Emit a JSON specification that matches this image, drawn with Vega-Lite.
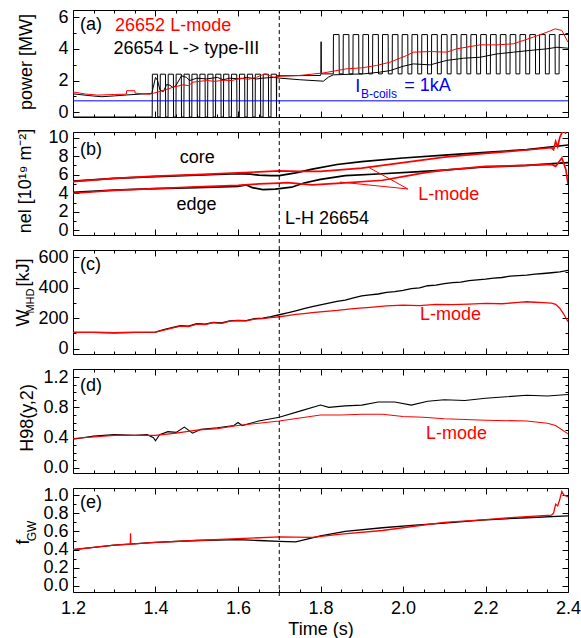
{
"$schema": "https://vega.github.io/schema/vega-lite/v6.json",
"padding": {"left": 14, "top": 7, "right": 0, "bottom": 0},
"spacing": 15,
"bounds": "flush",
"resolve": {"scale": {"color": "independent", "size": "independent"}},
"config": {
 "font": "Liberation Sans",
 "view": {"stroke": "#000", "strokeWidth": 1},
 "axis": {"labelFont": "Liberation Sans", "labelFontSize": 18, "labelColor": "#000", "tickColor": "#000", "tickWidth": 1, "titleFont": "Liberation Sans", "titleFontSize": 18, "titleFontWeight": "normal", "titleColor": "#000", "domain": false, "grid": false, "labelOverlap": false, "labelFlush": false},
 "text": {"font": "Liberation Sans", "fontSize": 18}
},
"datasets": {
 "a": [
  {"s":"q","t":1.2,"v":-0.3},{"s":"q","t":1.392,"v":-0.3},
  {"s":"q","t":1.3924,"v":2.4},{"s":"q","t":1.405,"v":2.4},{"s":"q","t":1.4054,"v":-0.3},{"s":"q","t":1.4112,"v":-0.3},
  {"s":"q","t":1.4116,"v":2.4},{"s":"q","t":1.4242,"v":2.4},{"s":"q","t":1.4246,"v":-0.3},{"s":"q","t":1.4304,"v":-0.3},
  {"s":"q","t":1.4308,"v":2.4},{"s":"q","t":1.4434,"v":2.4},{"s":"q","t":1.4438,"v":-0.3},{"s":"q","t":1.4496,"v":-0.3},
  {"s":"q","t":1.45,"v":2.4},{"s":"q","t":1.4626,"v":2.4},{"s":"q","t":1.463,"v":-0.3},{"s":"q","t":1.4688,"v":-0.3},
  {"s":"q","t":1.4692,"v":2.4},{"s":"q","t":1.4818,"v":2.4},{"s":"q","t":1.4822,"v":-0.3},{"s":"q","t":1.488,"v":-0.3},
  {"s":"q","t":1.4884,"v":2.4},{"s":"q","t":1.501,"v":2.4},{"s":"q","t":1.5014,"v":-0.3},{"s":"q","t":1.5072,"v":-0.3},
  {"s":"q","t":1.5076,"v":2.4},{"s":"q","t":1.5202,"v":2.4},{"s":"q","t":1.5206,"v":-0.3},{"s":"q","t":1.5264,"v":-0.3},
  {"s":"q","t":1.5268,"v":2.4},{"s":"q","t":1.5394,"v":2.4},{"s":"q","t":1.5398,"v":-0.3},{"s":"q","t":1.5456,"v":-0.3},
  {"s":"q","t":1.546,"v":2.4},{"s":"q","t":1.5586,"v":2.4},{"s":"q","t":1.559,"v":-0.3},{"s":"q","t":1.5648,"v":-0.3},
  {"s":"q","t":1.5652,"v":2.4},{"s":"q","t":1.5778,"v":2.4},{"s":"q","t":1.5782,"v":-0.3},{"s":"q","t":1.584,"v":-0.3},
  {"s":"q","t":1.5844,"v":2.4},{"s":"q","t":1.597,"v":2.4},{"s":"q","t":1.5974,"v":-0.3},{"s":"q","t":1.6032,"v":-0.3},
  {"s":"q","t":1.6036,"v":2.4},{"s":"q","t":1.6162,"v":2.4},{"s":"q","t":1.6166,"v":-0.3},{"s":"q","t":1.6224,"v":-0.3},
  {"s":"q","t":1.6228,"v":2.4},{"s":"q","t":1.6354,"v":2.4},{"s":"q","t":1.6358,"v":-0.3},{"s":"q","t":1.6416,"v":-0.3},
  {"s":"q","t":1.642,"v":2.4},{"s":"q","t":1.6546,"v":2.4},{"s":"q","t":1.655,"v":-0.3},{"s":"q","t":1.6608,"v":-0.3},
  {"s":"q","t":1.6612,"v":2.4},{"s":"q","t":1.6738,"v":2.4},{"s":"q","t":1.6742,"v":-0.3},{"s":"q","t":1.68,"v":-0.3},
  {"s":"q","t":1.6804,"v":2.4},{"s":"q","t":1.693,"v":2.4},{"s":"q","t":1.6934,"v":-0.3},
  {"s":"q","t":1.6938,"v":2.3},{"s":"q","t":1.8,"v":2.32},{"s":"q","t":1.801,"v":2.42},{"s":"q","t":1.8015,"v":4.45},{"s":"q","t":1.802,"v":2.42},
  {"s":"q","t":1.831,"v":2.42},{"s":"q","t":1.8314,"v":4.9},{"s":"q","t":1.845,"v":4.9},{"s":"q","t":1.8454,"v":2.42},
  {"s":"q","t":1.8548,"v":2.42},{"s":"q","t":1.8552,"v":4.9},{"s":"q","t":1.8688,"v":4.9},{"s":"q","t":1.8692,"v":2.42},
  {"s":"q","t":1.8786,"v":2.42},{"s":"q","t":1.879,"v":4.9},{"s":"q","t":1.8926,"v":4.9},{"s":"q","t":1.893,"v":2.42},
  {"s":"q","t":1.9024,"v":2.42},{"s":"q","t":1.9028,"v":4.9},{"s":"q","t":1.9164,"v":4.9},{"s":"q","t":1.9168,"v":2.42},
  {"s":"q","t":1.9262,"v":2.42},{"s":"q","t":1.9266,"v":4.9},{"s":"q","t":1.9402,"v":4.9},{"s":"q","t":1.9406,"v":2.42},
  {"s":"q","t":1.95,"v":2.42},{"s":"q","t":1.9504,"v":4.9},{"s":"q","t":1.964,"v":4.9},{"s":"q","t":1.9644,"v":2.42},
  {"s":"q","t":1.9738,"v":2.42},{"s":"q","t":1.9742,"v":4.9},{"s":"q","t":1.9878,"v":4.9},{"s":"q","t":1.9882,"v":2.42},
  {"s":"q","t":1.9976,"v":2.42},{"s":"q","t":1.998,"v":4.9},{"s":"q","t":2.0116,"v":4.9},{"s":"q","t":2.012,"v":2.42},
  {"s":"q","t":2.0214,"v":2.42},{"s":"q","t":2.0218,"v":4.9},{"s":"q","t":2.0354,"v":4.9},{"s":"q","t":2.0358,"v":2.42},
  {"s":"q","t":2.0452,"v":2.42},{"s":"q","t":2.0456,"v":4.9},{"s":"q","t":2.0592,"v":4.9},{"s":"q","t":2.0596,"v":2.42},
  {"s":"q","t":2.069,"v":2.42},{"s":"q","t":2.0694,"v":4.9},{"s":"q","t":2.083,"v":4.9},{"s":"q","t":2.0834,"v":2.42},
  {"s":"q","t":2.0928,"v":2.42},{"s":"q","t":2.0932,"v":4.9},{"s":"q","t":2.1068,"v":4.9},{"s":"q","t":2.1072,"v":2.42},
  {"s":"q","t":2.1166,"v":2.42},{"s":"q","t":2.117,"v":4.9},{"s":"q","t":2.1306,"v":4.9},{"s":"q","t":2.131,"v":2.42},
  {"s":"q","t":2.1404,"v":2.42},{"s":"q","t":2.1408,"v":4.9},{"s":"q","t":2.1544,"v":4.9},{"s":"q","t":2.1548,"v":2.42},
  {"s":"q","t":2.1642,"v":2.42},{"s":"q","t":2.1646,"v":4.9},{"s":"q","t":2.1782,"v":4.9},{"s":"q","t":2.1786,"v":2.42},
  {"s":"q","t":2.188,"v":2.42},{"s":"q","t":2.1884,"v":4.9},{"s":"q","t":2.202,"v":4.9},{"s":"q","t":2.2024,"v":2.42},
  {"s":"q","t":2.2118,"v":2.42},{"s":"q","t":2.2122,"v":4.9},{"s":"q","t":2.2258,"v":4.9},{"s":"q","t":2.2262,"v":2.42},
  {"s":"q","t":2.2356,"v":2.42},{"s":"q","t":2.236,"v":4.9},{"s":"q","t":2.2496,"v":4.9},{"s":"q","t":2.25,"v":2.42},
  {"s":"q","t":2.2594,"v":2.42},{"s":"q","t":2.2598,"v":4.9},{"s":"q","t":2.2734,"v":4.9},{"s":"q","t":2.2738,"v":2.42},
  {"s":"q","t":2.2832,"v":2.42},{"s":"q","t":2.2836,"v":4.9},{"s":"q","t":2.2972,"v":4.9},{"s":"q","t":2.2976,"v":2.42},
  {"s":"q","t":2.307,"v":2.42},{"s":"q","t":2.3074,"v":4.9},{"s":"q","t":2.321,"v":4.9},{"s":"q","t":2.3214,"v":2.42},
  {"s":"q","t":2.3308,"v":2.42},{"s":"q","t":2.3312,"v":4.9},{"s":"q","t":2.3448,"v":4.9},{"s":"q","t":2.3452,"v":2.42},
  {"s":"q","t":2.3546,"v":2.42},{"s":"q","t":2.355,"v":4.9},{"s":"q","t":2.3686,"v":4.9},{"s":"q","t":2.369,"v":2.42},
  {"s":"q","t":2.3784,"v":2.42},{"s":"q","t":2.3788,"v":4.9},{"s":"q","t":2.4,"v":4.9},
  {"s":"k","t":1.2,"v":1.16},{"s":"k","t":1.25,"v":1.02},{"s":"k","t":1.27,"v":0.98},{"s":"k","t":1.3,"v":1.03},{"s":"k","t":1.33,"v":1.09},{"s":"k","t":1.36,"v":1.14},{"s":"k","t":1.391,"v":1.18},
  {"s":"k","t":1.4,"v":2.2},{"s":"k","t":1.405,"v":2.0},{"s":"k","t":1.411,"v":1.4},{"s":"k","t":1.419,"v":1.3},{"s":"k","t":1.427,"v":1.75},{"s":"k","t":1.435,"v":1.7},{"s":"k","t":1.443,"v":1.55},{"s":"k","t":1.45,"v":1.7},{"s":"k","t":1.463,"v":2.3},{"s":"k","t":1.475,"v":2.2},{"s":"k","t":1.483,"v":2.0},{"s":"k","t":1.5,"v":2.15},{"s":"k","t":1.524,"v":2.1},{"s":"k","t":1.55,"v":2.2},{"s":"k","t":1.564,"v":2.05},{"s":"k","t":1.58,"v":2.15},{"s":"k","t":1.605,"v":2.1},{"s":"k","t":1.62,"v":2.2},{"s":"k","t":1.645,"v":2.1},{"s":"k","t":1.66,"v":2.15},{"s":"k","t":1.686,"v":2.2},{"s":"k","t":1.702,"v":2.15},
  {"s":"k","t":1.75,"v":2.05},{"s":"k","t":1.807,"v":1.96},{"s":"k","t":1.819,"v":2.21},{"s":"k","t":1.831,"v":2.36},{"s":"k","t":1.904,"v":2.42},{"s":"k","t":1.944,"v":2.53},{"s":"k","t":1.969,"v":2.63},{"s":"k","t":2.0,"v":2.9},{"s":"k","t":2.025,"v":3.05},{"s":"k","t":2.066,"v":2.99},{"s":"k","t":2.106,"v":3.27},{"s":"k","t":2.147,"v":3.41},{"s":"k","t":2.187,"v":3.47},{"s":"k","t":2.228,"v":3.68},{"s":"k","t":2.268,"v":3.79},{"s":"k","t":2.308,"v":3.9},{"s":"k","t":2.349,"v":4.0},{"s":"k","t":2.373,"v":4.1},{"s":"k","t":2.4,"v":4.04},
  {"s":"r","t":1.2,"v":1.28},{"s":"r","t":1.23,"v":1.15},{"s":"r","t":1.26,"v":1.08},{"s":"r","t":1.3,"v":1.12},{"s":"r","t":1.3295,"v":1.14},{"s":"r","t":1.33,"v":1.36},{"s":"r","t":1.35,"v":1.36},{"s":"r","t":1.3505,"v":1.2},{"s":"r","t":1.386,"v":1.14},{"s":"r","t":1.411,"v":1.31},{"s":"r","t":1.443,"v":1.58},{"s":"r","t":1.467,"v":1.73},{"s":"r","t":1.48,"v":1.68},{"s":"r","t":1.491,"v":1.9},{"s":"r","t":1.524,"v":2.0},{"s":"r","t":1.545,"v":1.95},{"s":"r","t":1.564,"v":2.02},{"s":"r","t":1.585,"v":2.0},{"s":"r","t":1.605,"v":2.15},{"s":"r","t":1.625,"v":2.08},{"s":"r","t":1.645,"v":2.21},{"s":"r","t":1.665,"v":2.42},{"s":"r","t":1.686,"v":2.21},{"s":"r","t":1.702,"v":2.27},{"s":"r","t":1.75,"v":2.32},{"s":"r","t":1.807,"v":2.48},{"s":"r","t":1.864,"v":2.74},{"s":"r","t":1.9,"v":2.8},{"s":"r","t":1.936,"v":2.95},{"s":"r","t":1.969,"v":3.16},{"s":"r","t":2.009,"v":3.58},{"s":"r","t":2.025,"v":3.79},{"s":"r","t":2.066,"v":3.83},{"s":"r","t":2.106,"v":3.79},{"s":"r","t":2.13,"v":4.0},{"s":"r","t":2.187,"v":4.25},{"s":"r","t":2.228,"v":4.25},{"s":"r","t":2.268,"v":4.32},{"s":"r","t":2.316,"v":4.74},{"s":"r","t":2.349,"v":5.05},{"s":"r","t":2.369,"v":5.26},{"s":"r","t":2.385,"v":5.16},{"s":"r","t":2.4,"v":4.42},
  {"s":"b","t":1.2,"v":0.72},{"s":"b","t":2.4,"v":0.72}
 ],
 "b": [
  {"s":"kc","t":1.2,"v":5.3},{"s":"kc","t":1.3,"v":5.6},{"s":"kc","t":1.4,"v":5.8},{"s":"kc","t":1.5,"v":5.95},{"s":"kc","t":1.6,"v":6.1},{"s":"kc","t":1.63,"v":6.05},{"s":"kc","t":1.65,"v":5.95},{"s":"kc","t":1.68,"v":5.9},{"s":"kc","t":1.7,"v":5.9},{"s":"kc","t":1.74,"v":6.2},{"s":"kc","t":1.78,"v":6.6},{"s":"kc","t":1.84,"v":7.1},{"s":"kc","t":1.9,"v":7.4},{"s":"kc","t":2.0,"v":7.8},{"s":"kc","t":2.1,"v":8.1},{"s":"kc","t":2.2,"v":8.4},{"s":"kc","t":2.3,"v":8.7},{"s":"kc","t":2.4,"v":9.2},
  {"s":"rc","t":1.2,"v":5.25},{"s":"rc","t":1.3,"v":5.6},{"s":"rc","t":1.4,"v":5.85},{"s":"rc","t":1.5,"v":6.0},{"s":"rc","t":1.6,"v":6.2},{"s":"rc","t":1.7,"v":6.4},{"s":"rc","t":1.75,"v":6.35},{"s":"rc","t":1.8,"v":6.35},{"s":"rc","t":1.9,"v":6.7},{"s":"rc","t":1.95,"v":7.0},{"s":"rc","t":2.0,"v":7.3},{"s":"rc","t":2.1,"v":7.9},{"s":"rc","t":2.2,"v":8.3},{"s":"rc","t":2.27,"v":8.55},{"s":"rc","t":2.36,"v":8.9},{"s":"rc","t":2.365,"v":8.7},{"s":"rc","t":2.37,"v":9.6},{"s":"rc","t":2.375,"v":9.0},{"s":"rc","t":2.38,"v":10.0},{"s":"rc","t":2.385,"v":10.5},{"s":"rc","t":2.39,"v":10.8},{"s":"rc","t":2.395,"v":10.4},
  {"s":"ke","t":1.2,"v":4.1},{"s":"ke","t":1.3,"v":4.35},{"s":"ke","t":1.4,"v":4.5},{"s":"ke","t":1.5,"v":4.6},{"s":"ke","t":1.6,"v":4.75},{"s":"ke","t":1.62,"v":4.9},{"s":"ke","t":1.635,"v":4.6},{"s":"ke","t":1.66,"v":4.4},{"s":"ke","t":1.69,"v":4.45},{"s":"ke","t":1.7,"v":4.5},{"s":"ke","t":1.73,"v":4.65},{"s":"ke","t":1.76,"v":5.1},{"s":"ke","t":1.8,"v":5.5},{"s":"ke","t":1.86,"v":5.9},{"s":"ke","t":1.95,"v":6.1},{"s":"ke","t":2.03,"v":6.3},{"s":"ke","t":2.1,"v":6.5},{"s":"ke","t":2.19,"v":6.8},{"s":"ke","t":2.3,"v":7.0},{"s":"ke","t":2.4,"v":7.3},
  {"s":"re","t":1.2,"v":4.0},{"s":"re","t":1.3,"v":4.3},{"s":"re","t":1.4,"v":4.5},{"s":"re","t":1.5,"v":4.7},{"s":"re","t":1.6,"v":4.85},{"s":"re","t":1.65,"v":5.0},{"s":"re","t":1.7,"v":5.1},{"s":"re","t":1.72,"v":5.15},{"s":"re","t":1.78,"v":4.9},{"s":"re","t":1.85,"v":5.1},{"s":"re","t":1.95,"v":5.4},{"s":"re","t":2.0,"v":5.8},{"s":"re","t":2.05,"v":6.2},{"s":"re","t":2.1,"v":6.5},{"s":"re","t":2.2,"v":6.9},{"s":"re","t":2.3,"v":7.0},{"s":"re","t":2.36,"v":7.1},{"s":"re","t":2.37,"v":6.9},{"s":"re","t":2.38,"v":7.5},{"s":"re","t":2.385,"v":7.8},{"s":"re","t":2.39,"v":7.2},{"s":"re","t":2.395,"v":6.5},{"s":"re","t":2.4,"v":5.0}
 ],
 "c": [
  {"s":"k","t":1.2,"v":106},{"s":"k","t":1.25,"v":107},{"s":"k","t":1.3,"v":104},{"s":"k","t":1.35,"v":106},{"s":"k","t":1.4,"v":108},{"s":"k","t":1.42,"v":125},{"s":"k","t":1.44,"v":138},{"s":"k","t":1.46,"v":150},{"s":"k","t":1.48,"v":147},{"s":"k","t":1.5,"v":163},{"s":"k","t":1.52,"v":160},{"s":"k","t":1.54,"v":172},{"s":"k","t":1.56,"v":168},{"s":"k","t":1.58,"v":182},{"s":"k","t":1.6,"v":185},{"s":"k","t":1.62,"v":183},{"s":"k","t":1.64,"v":197},{"s":"k","t":1.66,"v":200},{"s":"k","t":1.68,"v":210},{"s":"k","t":1.7,"v":222},{"s":"k","t":1.72,"v":235},{"s":"k","t":1.74,"v":248},{"s":"k","t":1.76,"v":262},{"s":"k","t":1.78,"v":275},{"s":"k","t":1.8,"v":287},{"s":"k","t":1.82,"v":298},{"s":"k","t":1.84,"v":310},{"s":"k","t":1.86,"v":318},{"s":"k","t":1.88,"v":332},{"s":"k","t":1.9,"v":345},{"s":"k","t":1.92,"v":352},{"s":"k","t":1.94,"v":358},{"s":"k","t":1.96,"v":368},{"s":"k","t":1.98,"v":374},{"s":"k","t":2.0,"v":382},{"s":"k","t":2.02,"v":393},{"s":"k","t":2.04,"v":398},{"s":"k","t":2.06,"v":412},{"s":"k","t":2.08,"v":416},{"s":"k","t":2.1,"v":426},{"s":"k","t":2.12,"v":432},{"s":"k","t":2.14,"v":436},{"s":"k","t":2.16,"v":446},{"s":"k","t":2.18,"v":450},{"s":"k","t":2.2,"v":455},{"s":"k","t":2.22,"v":462},{"s":"k","t":2.24,"v":466},{"s":"k","t":2.26,"v":475},{"s":"k","t":2.28,"v":478},{"s":"k","t":2.3,"v":482},{"s":"k","t":2.32,"v":488},{"s":"k","t":2.34,"v":492},{"s":"k","t":2.36,"v":497},{"s":"k","t":2.38,"v":503},{"s":"k","t":2.4,"v":512},
  {"s":"r","t":1.2,"v":106},{"s":"r","t":1.25,"v":106},{"s":"r","t":1.3,"v":104},{"s":"r","t":1.35,"v":107},{"s":"r","t":1.4,"v":108},{"s":"r","t":1.42,"v":122},{"s":"r","t":1.44,"v":135},{"s":"r","t":1.46,"v":148},{"s":"r","t":1.48,"v":145},{"s":"r","t":1.5,"v":160},{"s":"r","t":1.52,"v":158},{"s":"r","t":1.54,"v":170},{"s":"r","t":1.56,"v":166},{"s":"r","t":1.58,"v":180},{"s":"r","t":1.6,"v":183},{"s":"r","t":1.62,"v":182},{"s":"r","t":1.64,"v":194},{"s":"r","t":1.66,"v":196},{"s":"r","t":1.68,"v":203},{"s":"r","t":1.7,"v":209},{"s":"r","t":1.72,"v":216},{"s":"r","t":1.74,"v":224},{"s":"r","t":1.76,"v":230},{"s":"r","t":1.78,"v":236},{"s":"r","t":1.8,"v":241},{"s":"r","t":1.84,"v":250},{"s":"r","t":1.88,"v":262},{"s":"r","t":1.92,"v":270},{"s":"r","t":1.96,"v":280},{"s":"r","t":2.0,"v":285},{"s":"r","t":2.04,"v":282},{"s":"r","t":2.08,"v":290},{"s":"r","t":2.12,"v":288},{"s":"r","t":2.16,"v":292},{"s":"r","t":2.2,"v":296},{"s":"r","t":2.24,"v":294},{"s":"r","t":2.28,"v":303},{"s":"r","t":2.3,"v":307},{"s":"r","t":2.32,"v":304},{"s":"r","t":2.34,"v":301},{"s":"r","t":2.36,"v":298},{"s":"r","t":2.37,"v":290},{"s":"r","t":2.38,"v":265},{"s":"r","t":2.39,"v":225},{"s":"r","t":2.4,"v":176}
 ],
 "d": [
  {"s":"k","t":1.2,"v":0.38},{"s":"k","t":1.25,"v":0.42},{"s":"k","t":1.3,"v":0.44},{"s":"k","t":1.35,"v":0.43},{"s":"k","t":1.38,"v":0.44},{"s":"k","t":1.395,"v":0.4},{"s":"k","t":1.4,"v":0.36},{"s":"k","t":1.41,"v":0.44},{"s":"k","t":1.43,"v":0.48},{"s":"k","t":1.45,"v":0.47},{"s":"k","t":1.47,"v":0.54},{"s":"k","t":1.49,"v":0.46},{"s":"k","t":1.51,"v":0.51},{"s":"k","t":1.55,"v":0.53},{"s":"k","t":1.59,"v":0.56},{"s":"k","t":1.6,"v":0.6},{"s":"k","t":1.61,"v":0.56},{"s":"k","t":1.65,"v":0.62},{"s":"k","t":1.7,"v":0.67},{"s":"k","t":1.75,"v":0.75},{"s":"k","t":1.8,"v":0.83},{"s":"k","t":1.82,"v":0.8},{"s":"k","t":1.86,"v":0.82},{"s":"k","t":1.9,"v":0.83},{"s":"k","t":1.94,"v":0.87},{"s":"k","t":1.98,"v":0.87},{"s":"k","t":2.02,"v":0.83},{"s":"k","t":2.06,"v":0.88},{"s":"k","t":2.1,"v":0.9},{"s":"k","t":2.15,"v":0.89},{"s":"k","t":2.2,"v":0.92},{"s":"k","t":2.25,"v":0.94},{"s":"k","t":2.3,"v":0.96},{"s":"k","t":2.35,"v":0.95},{"s":"k","t":2.4,"v":0.97},
  {"s":"r","t":1.2,"v":0.39},{"s":"r","t":1.3,"v":0.43},{"s":"r","t":1.4,"v":0.43},{"s":"r","t":1.45,"v":0.46},{"s":"r","t":1.5,"v":0.5},{"s":"r","t":1.55,"v":0.52},{"s":"r","t":1.6,"v":0.56},{"s":"r","t":1.65,"v":0.59},{"s":"r","t":1.7,"v":0.62},{"s":"r","t":1.75,"v":0.66},{"s":"r","t":1.8,"v":0.7},{"s":"r","t":1.85,"v":0.7},{"s":"r","t":1.9,"v":0.71},{"s":"r","t":1.95,"v":0.71},{"s":"r","t":2.0,"v":0.68},{"s":"r","t":2.05,"v":0.67},{"s":"r","t":2.1,"v":0.65},{"s":"r","t":2.2,"v":0.63},{"s":"r","t":2.3,"v":0.62},{"s":"r","t":2.35,"v":0.59},{"s":"r","t":2.37,"v":0.56},{"s":"r","t":2.4,"v":0.45}
 ],
 "e": [
  {"s":"k","t":1.2,"v":0.4},{"s":"k","t":1.3,"v":0.45},{"s":"k","t":1.4,"v":0.48},{"s":"k","t":1.5,"v":0.5},{"s":"k","t":1.6,"v":0.51},{"s":"k","t":1.65,"v":0.5},{"s":"k","t":1.7,"v":0.49},{"s":"k","t":1.74,"v":0.485},{"s":"k","t":1.8,"v":0.55},{"s":"k","t":1.86,"v":0.6},{"s":"k","t":1.95,"v":0.64},{"s":"k","t":2.03,"v":0.67},{"s":"k","t":2.1,"v":0.69},{"s":"k","t":2.19,"v":0.725},{"s":"k","t":2.3,"v":0.75},{"s":"k","t":2.4,"v":0.77},
  {"s":"r","t":1.2,"v":0.4},{"s":"r","t":1.3,"v":0.45},{"s":"r","t":1.339,"v":0.46},{"s":"r","t":1.3395,"v":0.58},{"s":"r","t":1.34,"v":0.46},{"s":"r","t":1.4,"v":0.48},{"s":"r","t":1.5,"v":0.5},{"s":"r","t":1.6,"v":0.52},{"s":"r","t":1.7,"v":0.54},{"s":"r","t":1.78,"v":0.535},{"s":"r","t":1.85,"v":0.57},{"s":"r","t":1.95,"v":0.61},{"s":"r","t":2.0,"v":0.64},{"s":"r","t":2.1,"v":0.7},{"s":"r","t":2.2,"v":0.73},{"s":"r","t":2.27,"v":0.755},{"s":"r","t":2.36,"v":0.78},{"s":"r","t":2.365,"v":0.8},{"s":"r","t":2.37,"v":0.9},{"s":"r","t":2.375,"v":0.88},{"s":"r","t":2.38,"v":0.95},{"s":"r","t":2.385,"v":1.04},{"s":"r","t":2.39,"v":1.0},{"s":"r","t":2.4,"v":0.98}
 ]
},
"vconcat": [
 {
  "width": 495, "height": 107,
  "layer": [
   {"data": {"name": "a"}, "mark": {"type": "line", "clip": true},
    "encoding": {
     "x": {"field": "t", "type": "quantitative", "scale": {"domain": [1.2, 2.4], "nice": false, "zero": false},
       "axis": {"orient": "bottom", "values": [1.2,1.25,1.3,1.35,1.4,1.45,1.5,1.55,1.6,1.65,1.7,1.75,1.8,1.85,1.9,1.95,2.0,2.05,2.1,2.15,2.2,2.25,2.3,2.35,2.4], "labels": false, "title": null, "tickSize": {"condition": {"test": "abs(datum.value*5 - round(datum.value*5)) < 0.01", "value": -6}, "value": -3}}},
     "y": {"field": "v", "type": "quantitative", "scale": {"domain": [-0.3, 6.45], "nice": false, "zero": false},
       "axis": {"orient": "left", "values": [0,1,2,3,4,5,6], "labelExpr": "datum.value % 2 == 0 ? format(datum.value, 'd') : ''", "labelPadding": 11, "title": null, "tickSize": {"condition": {"test": "datum.value % 2 == 0", "value": -6}, "value": -3}}},
     "color": {"field": "s", "type": "nominal", "scale": {"domain": ["q","k","r","b"], "range": ["#000000","#000000","#ff0000","#0000ff"]}, "legend": null},
     "size": {"field": "s", "type": "nominal", "scale": {"domain": ["q","k","r","b"], "range": [1,1,1.2,2.6]}, "legend": null}
    }},
   {"data": {"values": [{}]}, "mark": {"type": "rule", "strokeDash": [4,3], "color": "#000", "strokeWidth": 1},
    "encoding": {
     "x": {"datum": 1.7, "type": "quantitative", "scale": {"domain": [1.2, 2.4], "nice": false, "zero": false},
       "axis": {"orient": "top", "values": [1.2,1.25,1.3,1.35,1.4,1.45,1.5,1.55,1.6,1.65,1.7,1.75,1.8,1.85,1.9,1.95,2.0,2.05,2.1,2.15,2.2,2.25,2.3,2.35,2.4], "labels": false, "title": null, "tickSize": {"condition": {"test": "abs(datum.value*5 - round(datum.value*5)) < 0.01", "value": -6}, "value": -3}}},
     "y": {"datum": -1.25, "type": "quantitative", "scale": {"domain": [-0.3, 6.45], "nice": false, "zero": false},
       "axis": {"orient": "right", "values": [0,1,2,3,4,5,6], "labels": false, "title": null, "tickSize": {"condition": {"test": "datum.value % 2 == 0", "value": -6}, "value": -3}}},
     "y2": {"datum": 6.45}
    }},
   {"data": {"values": [{"t": 1.217, "v": 5.48, "label": "(a)"}, {"t": 1.298, "v": 4.0, "label": "26654 L -> type-III"}]},
    "mark": {"type": "text", "align": "left", "baseline": "middle", "color": "#000", "fontSize": 18},
    "encoding": {"x": {"field": "t", "type": "quantitative", "scale": {"domain": [1.2, 2.4], "nice": false, "zero": false}, "axis": null}, "y": {"field": "v", "type": "quantitative", "scale": {"domain": [-0.3, 6.45], "nice": false, "zero": false}, "axis": null}, "text": {"field": "label"}}},
   {"data": {"values": [{"t": 1.302, "v": 5.43, "label": "26652 L-mode"}]},
    "mark": {"type": "text", "align": "left", "baseline": "middle", "color": "#ff0000", "fontSize": 18},
    "encoding": {"x": {"field": "t", "type": "quantitative", "scale": {"domain": [1.2, 2.4], "nice": false, "zero": false}, "axis": null}, "y": {"field": "v", "type": "quantitative", "scale": {"domain": [-0.3, 6.45], "nice": false, "zero": false}, "axis": null}, "text": {"field": "label"}}},
   {"data": {"values": [{"t": 1.884, "v": 1.62, "label": "I"}, {"t": 2.003, "v": 1.64, "label": "= 1kA"}]},
    "mark": {"type": "text", "align": "left", "baseline": "middle", "color": "#0000ff", "fontSize": 18},
    "encoding": {"x": {"field": "t", "type": "quantitative", "scale": {"domain": [1.2, 2.4], "nice": false, "zero": false}, "axis": null}, "y": {"field": "v", "type": "quantitative", "scale": {"domain": [-0.3, 6.45], "nice": false, "zero": false}, "axis": null}, "text": {"field": "label"}}},
   {"data": {"values": [{"t": 1.898, "v": 1.15, "label": "B-coils"}]},
    "mark": {"type": "text", "align": "left", "baseline": "middle", "color": "#0000ff", "fontSize": 12},
    "encoding": {"x": {"field": "t", "type": "quantitative", "scale": {"domain": [1.2, 2.4], "nice": false, "zero": false}, "axis": null}, "y": {"field": "v", "type": "quantitative", "scale": {"domain": [-0.3, 6.45], "nice": false, "zero": false}, "axis": null}, "text": {"field": "label"}}},
   {"data": {"values": [{"t": 1.0873, "v": 3.17, "label": "power [MW]"}]},
    "mark": {"type": "text", "align": "center", "baseline": "middle", "angle": 270, "color": "#000", "fontSize": 18},
    "encoding": {"x": {"field": "t", "type": "quantitative", "scale": {"domain": [1.2, 2.4], "nice": false, "zero": false}, "axis": null}, "y": {"field": "v", "type": "quantitative", "scale": {"domain": [-0.3, 6.45], "nice": false, "zero": false}, "axis": null}, "text": {"field": "label"}}}
  ],
  "resolve": {"axis": {"x": "independent", "y": "independent"}}
 },
 {
  "width": 495, "height": 103,
  "layer": [
   {"data": {"name": "b"}, "mark": {"type": "line", "clip": true, "strokeWidth": 1.7},
    "encoding": {
     "x": {"field": "t", "type": "quantitative", "scale": {"domain": [1.2, 2.4], "nice": false, "zero": false},
       "axis": {"orient": "bottom", "values": [1.2,1.25,1.3,1.35,1.4,1.45,1.5,1.55,1.6,1.65,1.7,1.75,1.8,1.85,1.9,1.95,2.0,2.05,2.1,2.15,2.2,2.25,2.3,2.35,2.4], "labels": false, "title": null, "tickSize": {"condition": {"test": "abs(datum.value*5 - round(datum.value*5)) < 0.01", "value": -6}, "value": -3}}},
     "y": {"field": "v", "type": "quantitative", "scale": {"domain": [-0.5, 10.6], "nice": false, "zero": false},
       "axis": {"orient": "left", "values": [0,1,2,3,4,5,6,7,8,9,10], "labelExpr": "datum.value % 2 == 0 ? format(datum.value, 'd') : ''", "labelPadding": 11, "title": null, "tickSize": {"condition": {"test": "datum.value % 2 == 0", "value": -6}, "value": -3}}},
     "color": {"field": "s", "type": "nominal", "scale": {"domain": ["kc","ke","rc","re"], "range": ["#000000","#000000","#ff0000","#ff0000"]}, "legend": null}
    }},
   {"data": {"values": [{}]}, "mark": {"type": "rule", "strokeDash": [4,3], "color": "#000", "strokeWidth": 1},
    "encoding": {
     "x": {"datum": 1.7, "type": "quantitative", "scale": {"domain": [1.2, 2.4], "nice": false, "zero": false},
       "axis": {"orient": "top", "values": [1.2,1.25,1.3,1.35,1.4,1.45,1.5,1.55,1.6,1.65,1.7,1.75,1.8,1.85,1.9,1.95,2.0,2.05,2.1,2.15,2.2,2.25,2.3,2.35,2.4], "labels": false, "title": null, "tickSize": {"condition": {"test": "abs(datum.value*5 - round(datum.value*5)) < 0.01", "value": -6}, "value": -3}}},
     "y": {"datum": -2.12, "type": "quantitative", "scale": {"domain": [-0.5, 10.6], "nice": false, "zero": false},
       "axis": {"orient": "right", "values": [0,1,2,3,4,5,6,7,8,9,10], "labels": false, "title": null, "tickSize": {"condition": {"test": "datum.value % 2 == 0", "value": -6}, "value": -3}}},
     "y2": {"datum": 10.6}
    }},
   {"data": {"values": [{"t": 2.012, "v": 4.46, "t2": 1.915, "v2": 6.83}, {"t": 2.012, "v": 4.46, "t2": 1.847, "v2": 5.21}]},
    "mark": {"type": "rule", "color": "#ff0000", "strokeWidth": 1},
    "encoding": {"x": {"field": "t", "type": "quantitative", "scale": {"domain": [1.2, 2.4], "nice": false, "zero": false}, "axis": null}, "y": {"field": "v", "type": "quantitative", "scale": {"domain": [-0.5, 10.6], "nice": false, "zero": false}, "axis": null}, "x2": {"field": "t2"}, "y2": {"field": "v2"}}},
   {"data": {"values": [{"t": 1.217, "v": 8.7, "label": "(b)"}, {"t": 1.459, "v": 7.8, "label": "core"}, {"t": 1.451, "v": 2.7, "label": "edge"}, {"t": 1.714, "v": 1.26, "label": "L-H 26654"}]},
    "mark": {"type": "text", "align": "left", "baseline": "middle", "color": "#000", "fontSize": 18},
    "encoding": {"x": {"field": "t", "type": "quantitative", "scale": {"domain": [1.2, 2.4], "nice": false, "zero": false}, "axis": null}, "y": {"field": "v", "type": "quantitative", "scale": {"domain": [-0.5, 10.6], "nice": false, "zero": false}, "axis": null}, "text": {"field": "label"}}},
   {"data": {"values": [{"t": 2.037, "v": 3.84, "label": "L-mode"}]},
    "mark": {"type": "text", "align": "left", "baseline": "middle", "color": "#ff0000", "fontSize": 18},
    "encoding": {"x": {"field": "t", "type": "quantitative", "scale": {"domain": [1.2, 2.4], "nice": false, "zero": false}, "axis": null}, "y": {"field": "v", "type": "quantitative", "scale": {"domain": [-0.5, 10.6], "nice": false, "zero": false}, "axis": null}, "text": {"field": "label"}}},
   {"data": {"values": [{"t": 1.0855, "v": 5.32, "label": "nel [10¹⁹ m⁻²]"}]},
    "mark": {"type": "text", "align": "center", "baseline": "middle", "angle": 270, "color": "#000", "fontSize": 18},
    "encoding": {"x": {"field": "t", "type": "quantitative", "scale": {"domain": [1.2, 2.4], "nice": false, "zero": false}, "axis": null}, "y": {"field": "v", "type": "quantitative", "scale": {"domain": [-0.5, 10.6], "nice": false, "zero": false}, "axis": null}, "text": {"field": "label"}}}
  ],
  "resolve": {"axis": {"x": "independent", "y": "independent"}}
 },
 {
  "width": 495, "height": 104,
  "layer": [
   {"data": {"name": "c"}, "mark": {"type": "line", "clip": true, "strokeWidth": 1.3},
    "encoding": {
     "x": {"field": "t", "type": "quantitative", "scale": {"domain": [1.2, 2.4], "nice": false, "zero": false},
       "axis": {"orient": "bottom", "values": [1.2,1.25,1.3,1.35,1.4,1.45,1.5,1.55,1.6,1.65,1.7,1.75,1.8,1.85,1.9,1.95,2.0,2.05,2.1,2.15,2.2,2.25,2.3,2.35,2.4], "labels": false, "title": null, "tickSize": {"condition": {"test": "abs(datum.value*5 - round(datum.value*5)) < 0.01", "value": -6}, "value": -3}}},
     "y": {"field": "v", "type": "quantitative", "scale": {"domain": [-35, 646], "nice": false, "zero": false},
       "axis": {"orient": "left", "values": [0,100,200,300,400,500,600], "labelExpr": "datum.value % 200 == 0 ? format(datum.value, 'd') : ''", "labelPadding": 11, "title": null, "tickSize": {"condition": {"test": "datum.value % 200 == 0", "value": -6}, "value": -3}}},
     "color": {"field": "s", "type": "nominal", "scale": {"domain": ["k","r"], "range": ["#000000","#ff0000"]}, "legend": null}
    }},
   {"data": {"values": [{}]}, "mark": {"type": "rule", "strokeDash": [4,3], "color": "#000", "strokeWidth": 1},
    "encoding": {
     "x": {"datum": 1.7, "type": "quantitative", "scale": {"domain": [1.2, 2.4], "nice": false, "zero": false},
       "axis": {"orient": "top", "values": [1.2,1.25,1.3,1.35,1.4,1.45,1.5,1.55,1.6,1.65,1.7,1.75,1.8,1.85,1.9,1.95,2.0,2.05,2.1,2.15,2.2,2.25,2.3,2.35,2.4], "labels": false, "title": null, "tickSize": {"condition": {"test": "abs(datum.value*5 - round(datum.value*5)) < 0.01", "value": -6}, "value": -3}}},
     "y": {"datum": -133, "type": "quantitative", "scale": {"domain": [-35, 646], "nice": false, "zero": false},
       "axis": {"orient": "right", "values": [0,100,200,300,400,500,600], "labels": false, "title": null, "tickSize": {"condition": {"test": "datum.value % 200 == 0", "value": -6}, "value": -3}}},
     "y2": {"datum": 646}
    }},
   {"data": {"values": [{"t": 1.217, "v": 546, "label": "(c)"}]},
    "mark": {"type": "text", "align": "left", "baseline": "middle", "color": "#000", "fontSize": 18},
    "encoding": {"x": {"field": "t", "type": "quantitative", "scale": {"domain": [1.2, 2.4], "nice": false, "zero": false}, "axis": null}, "y": {"field": "v", "type": "quantitative", "scale": {"domain": [-35, 646], "nice": false, "zero": false}, "axis": null}, "text": {"field": "label"}}},
   {"data": {"values": [{"t": 2.041, "v": 218, "label": "L-mode"}]},
    "mark": {"type": "text", "align": "left", "baseline": "middle", "color": "#ff0000", "fontSize": 18},
    "encoding": {"x": {"field": "t", "type": "quantitative", "scale": {"domain": [1.2, 2.4], "nice": false, "zero": false}, "axis": null}, "y": {"field": "v", "type": "quantitative", "scale": {"domain": [-35, 646], "nice": false, "zero": false}, "axis": null}, "text": {"field": "label"}}},
   {"data": {"values": [{"t": 1.0812, "v": 201, "label": "W"}, {"t": 1.0812, "v": 499, "label": "[kJ]"}]},
    "mark": {"type": "text", "align": "center", "baseline": "middle", "angle": 270, "color": "#000", "fontSize": 18},
    "encoding": {"x": {"field": "t", "type": "quantitative", "scale": {"domain": [1.2, 2.4], "nice": false, "zero": false}, "axis": null}, "y": {"field": "v", "type": "quantitative", "scale": {"domain": [-35, 646], "nice": false, "zero": false}, "axis": null}, "text": {"field": "label"}}},
   {"data": {"values": [{"t": 1.097, "v": 312, "label": "MHD"}]},
    "mark": {"type": "text", "align": "center", "baseline": "middle", "angle": 270, "color": "#000", "fontSize": 11},
    "encoding": {"x": {"field": "t", "type": "quantitative", "scale": {"domain": [1.2, 2.4], "nice": false, "zero": false}, "axis": null}, "y": {"field": "v", "type": "quantitative", "scale": {"domain": [-35, 646], "nice": false, "zero": false}, "axis": null}, "text": {"field": "label"}}}
  ],
  "resolve": {"axis": {"x": "independent", "y": "independent"}}
 },
 {
  "width": 495, "height": 104,
  "layer": [
   {"data": {"name": "d"}, "mark": {"type": "line", "clip": true, "strokeWidth": 1.1},
    "encoding": {
     "x": {"field": "t", "type": "quantitative", "scale": {"domain": [1.2, 2.4], "nice": false, "zero": false},
       "axis": {"orient": "bottom", "values": [1.2,1.25,1.3,1.35,1.4,1.45,1.5,1.55,1.6,1.65,1.7,1.75,1.8,1.85,1.9,1.95,2.0,2.05,2.1,2.15,2.2,2.25,2.3,2.35,2.4], "labels": false, "title": null, "tickSize": {"condition": {"test": "abs(datum.value*5 - round(datum.value*5)) < 0.01", "value": -6}, "value": -3}}},
     "y": {"field": "v", "type": "quantitative", "scale": {"domain": [-0.066, 1.306], "nice": false, "zero": false},
       "axis": {"orient": "left", "values": [0,0.1,0.2,0.3,0.4,0.5,0.6,0.7,0.8,0.9,1.0,1.1,1.2,1.3], "labelExpr": "abs(datum.value/0.4 - round(datum.value/0.4)) < 0.01 ? format(datum.value, '.1f') : ''", "labelPadding": 11, "title": null, "tickSize": {"condition": {"test": "abs(datum.value/0.4 - round(datum.value/0.4)) < 0.01", "value": -6}, "value": -3}}},
     "color": {"field": "s", "type": "nominal", "scale": {"domain": ["k","r"], "range": ["#000000","#ff0000"]}, "legend": null}
    }},
   {"data": {"values": [{}]}, "mark": {"type": "rule", "strokeDash": [4,3], "color": "#000", "strokeWidth": 1},
    "encoding": {
     "x": {"datum": 1.7, "type": "quantitative", "scale": {"domain": [1.2, 2.4], "nice": false, "zero": false},
       "axis": {"orient": "top", "values": [1.2,1.25,1.3,1.35,1.4,1.45,1.5,1.55,1.6,1.65,1.7,1.75,1.8,1.85,1.9,1.95,2.0,2.05,2.1,2.15,2.2,2.25,2.3,2.35,2.4], "labels": false, "title": null, "tickSize": {"condition": {"test": "abs(datum.value*5 - round(datum.value*5)) < 0.01", "value": -6}, "value": -3}}},
     "y": {"datum": -0.264, "type": "quantitative", "scale": {"domain": [-0.066, 1.306], "nice": false, "zero": false},
       "axis": {"orient": "right", "values": [0,0.1,0.2,0.3,0.4,0.5,0.6,0.7,0.8,0.9,1.0,1.1,1.2,1.3], "labels": false, "title": null, "tickSize": {"condition": {"test": "abs(datum.value/0.4 - round(datum.value/0.4)) < 0.01", "value": -6}, "value": -3}}},
     "y2": {"datum": 1.306}
    }},
   {"data": {"values": [{"t": 1.217, "v": 1.08, "label": "(d)"}]},
    "mark": {"type": "text", "align": "left", "baseline": "middle", "color": "#000", "fontSize": 18},
    "encoding": {"x": {"field": "t", "type": "quantitative", "scale": {"domain": [1.2, 2.4], "nice": false, "zero": false}, "axis": null}, "y": {"field": "v", "type": "quantitative", "scale": {"domain": [-0.066, 1.306], "nice": false, "zero": false}, "axis": null}, "text": {"field": "label"}}},
   {"data": {"values": [{"t": 2.056, "v": 0.452, "label": "L-mode"}]},
    "mark": {"type": "text", "align": "left", "baseline": "middle", "color": "#ff0000", "fontSize": 18},
    "encoding": {"x": {"field": "t", "type": "quantitative", "scale": {"domain": [1.2, 2.4], "nice": false, "zero": false}, "axis": null}, "y": {"field": "v", "type": "quantitative", "scale": {"domain": [-0.066, 1.306], "nice": false, "zero": false}, "axis": null}, "text": {"field": "label"}}},
   {"data": {"values": [{"t": 1.0897, "v": 0.66, "label": "H98(y,2)"}]},
    "mark": {"type": "text", "align": "center", "baseline": "middle", "angle": 270, "color": "#000", "fontSize": 18},
    "encoding": {"x": {"field": "t", "type": "quantitative", "scale": {"domain": [1.2, 2.4], "nice": false, "zero": false}, "axis": null}, "y": {"field": "v", "type": "quantitative", "scale": {"domain": [-0.066, 1.306], "nice": false, "zero": false}, "axis": null}, "text": {"field": "label"}}}
  ],
  "resolve": {"axis": {"x": "independent", "y": "independent"}}
 },
 {
  "width": 495, "height": 104,
  "layer": [
   {"data": {"name": "e"}, "mark": {"type": "line", "clip": true, "strokeWidth": 1.3},
    "encoding": {
     "x": {"field": "t", "type": "quantitative", "scale": {"domain": [1.2, 2.4], "nice": false, "zero": false},
       "axis": {"orient": "bottom", "values": [1.2,1.25,1.3,1.35,1.4,1.45,1.5,1.55,1.6,1.65,1.7,1.75,1.8,1.85,1.9,1.95,2.0,2.05,2.1,2.15,2.2,2.25,2.3,2.35,2.4], "labelExpr": "abs(datum.value*5 - round(datum.value*5)) < 0.01 ? format(datum.value, '.1f') : ''", "labelPadding": 13, "title": "Time (s)", "titlePadding": 0, "tickSize": {"condition": {"test": "abs(datum.value*5 - round(datum.value*5)) < 0.01", "value": -6}, "value": -3}}},
     "y": {"field": "v", "type": "quantitative", "scale": {"domain": [-0.066, 1.077], "nice": false, "zero": false},
       "axis": {"orient": "left", "values": [0,0.1,0.2,0.3,0.4,0.5,0.6,0.7,0.8,0.9,1.0], "labelExpr": "abs(datum.value*5 - round(datum.value*5)) < 0.01 ? format(datum.value, '.1f') : ''", "labelPadding": 11, "title": null, "tickSize": {"condition": {"test": "abs(datum.value*5 - round(datum.value*5)) < 0.01", "value": -6}, "value": -3}}},
     "color": {"field": "s", "type": "nominal", "scale": {"domain": ["k","r"], "range": ["#000000","#ff0000"]}, "legend": null}
    }},
   {"data": {"values": [{}]}, "mark": {"type": "rule", "strokeDash": [4,3], "color": "#000", "strokeWidth": 1},
    "encoding": {
     "x": {"datum": 1.7, "type": "quantitative", "scale": {"domain": [1.2, 2.4], "nice": false, "zero": false},
       "axis": {"orient": "top", "values": [1.2,1.25,1.3,1.35,1.4,1.45,1.5,1.55,1.6,1.65,1.7,1.75,1.8,1.85,1.9,1.95,2.0,2.05,2.1,2.15,2.2,2.25,2.3,2.35,2.4], "labels": false, "title": null, "tickSize": {"condition": {"test": "abs(datum.value*5 - round(datum.value*5)) < 0.01", "value": -6}, "value": -3}}},
     "y": {"datum": -0.11, "type": "quantitative", "scale": {"domain": [-0.066, 1.077], "nice": false, "zero": false},
       "axis": {"orient": "right", "values": [0,0.1,0.2,0.3,0.4,0.5,0.6,0.7,0.8,0.9,1.0], "labels": false, "title": null, "tickSize": {"condition": {"test": "abs(datum.value*5 - round(datum.value*5)) < 0.01", "value": -6}, "value": -3}}},
     "y2": {"datum": 1.077}
    }},
   {"data": {"values": [{"t": 1.217, "v": 0.915, "label": "(e)"}]},
    "mark": {"type": "text", "align": "left", "baseline": "middle", "color": "#000", "fontSize": 18},
    "encoding": {"x": {"field": "t", "type": "quantitative", "scale": {"domain": [1.2, 2.4], "nice": false, "zero": false}, "axis": null}, "y": {"field": "v", "type": "quantitative", "scale": {"domain": [-0.066, 1.077], "nice": false, "zero": false}, "axis": null}, "text": {"field": "label"}}},
   {"data": {"values": [{"t": 1.081, "v": 0.484, "label": "f"}]},
    "mark": {"type": "text", "align": "center", "baseline": "middle", "angle": 270, "color": "#000", "fontSize": 18},
    "encoding": {"x": {"field": "t", "type": "quantitative", "scale": {"domain": [1.2, 2.4], "nice": false, "zero": false}, "axis": null}, "y": {"field": "v", "type": "quantitative", "scale": {"domain": [-0.066, 1.077], "nice": false, "zero": false}, "axis": null}, "text": {"field": "label"}}},
   {"data": {"values": [{"t": 1.0994, "v": 0.604, "label": "GW"}]},
    "mark": {"type": "text", "align": "center", "baseline": "middle", "angle": 270, "color": "#000", "fontSize": 12},
    "encoding": {"x": {"field": "t", "type": "quantitative", "scale": {"domain": [1.2, 2.4], "nice": false, "zero": false}, "axis": null}, "y": {"field": "v", "type": "quantitative", "scale": {"domain": [-0.066, 1.077], "nice": false, "zero": false}, "axis": null}, "text": {"field": "label"}}}
  ],
  "resolve": {"axis": {"x": "independent", "y": "independent"}}
 }
]
}
